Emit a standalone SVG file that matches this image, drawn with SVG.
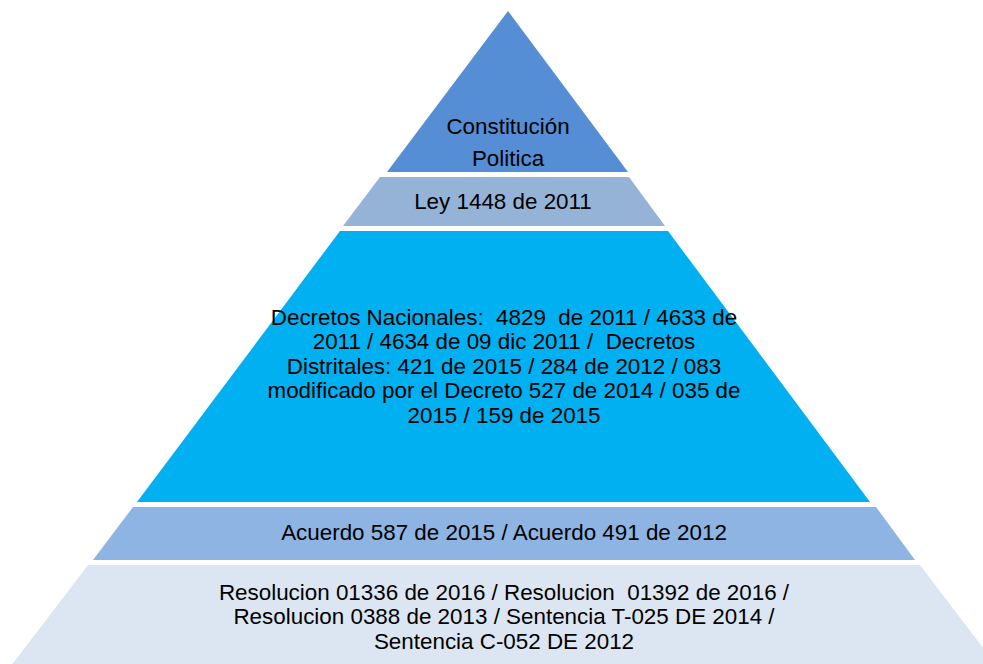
<svg xmlns="http://www.w3.org/2000/svg" width="983" height="664" viewBox="0 0 983 664">
<style>
text{font-family:"Liberation Sans",Arial,sans-serif;font-size:22.4px;fill:#000;text-anchor:middle;white-space:pre}
</style>
<rect width="983" height="664" fill="#fff"/>
<g id="layer1">
<polygon points="508,11 628,172 387,172" fill="#558ED5"/>
<text x="508" y="133.5">Constitución</text>
<text x="508" y="165.5">Politica</text>
</g>
<g id="layer2">
<polygon points="380,177 629,177 665,226 343,226" fill="#95B3D7"/>
<text x="503" y="208.5">Ley 1448 de 2011</text>
</g>
<g id="layer3">
<polygon points="340,231 668,231 870,502 137,502" fill="#00B0F0"/>
<text x="504" y="324.5" xml:space="preserve">Decretos Nacionales:  4829  de 2011 / 4633 de</text>
<text x="504" y="349" xml:space="preserve">2011 / 4634 de 09 dic 2011 /  Decretos</text>
<text x="504" y="373.5">Distritales: 421 de 2015 / 284 de 2012 / 083</text>
<text x="504" y="398">modificado por el Decreto 527 de 2014 / 035 de</text>
<text x="504" y="422.5">2015 / 159 de 2015</text>
</g>
<g id="layer4">
<polygon points="133,507 876,507 915,560 93,560" fill="#8EB4E3"/>
<text x="504" y="540">Acuerdo 587 de 2015 / Acuerdo 491 de 2012</text>
</g>
<g id="layer5">
<polygon points="88,565 920,565 997,666 11,666" fill="#DCE6F2"/>
<text x="504" y="600" xml:space="preserve">Resolucion 01336 de 2016 / Resolucion  01392 de 2016 /</text>
<text x="504" y="624.3">Resolucion 0388 de 2013 / Sentencia T-025 DE 2014 /</text>
<text x="504" y="648.5">Sentencia C-052 DE 2012</text>
</g>
<g id="connectors"/>
</svg>
